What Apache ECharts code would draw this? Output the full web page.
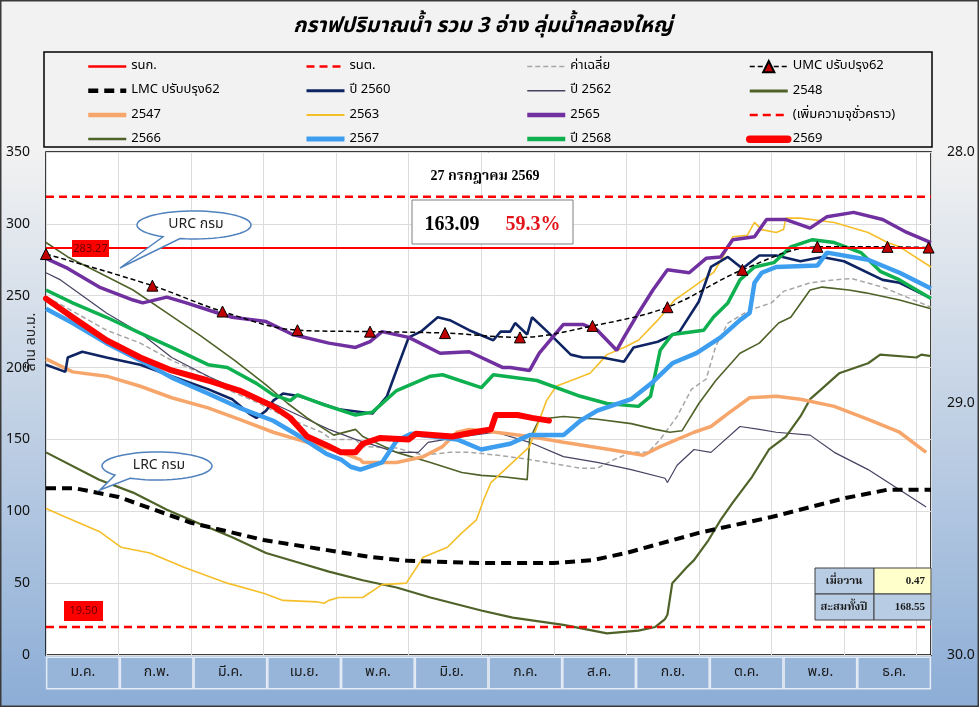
<!DOCTYPE html>
<html><head><meta charset="utf-8">
<script src="https://cdn.jsdelivr.net/npm/echarts@6/dist/echarts.min.js"></script>
<style>html,body{margin:0;padding:0;background:#f2f2f2}#c{width:979px;height:707px}</style>
</head><body><div id="c"></div>
<script>
// ---- categories / ticks ----
const months = ['ม.ค.','ก.พ.','มี.ค.','เม.ย.','พ.ค.','มิ.ย.','ก.ค.','ส.ค.','ก.ย.','ต.ค.','พ.ย.','ธ.ค.'];
const leftTicks = {min:0, max:350, step:50};
const rightTicks = {min:28, max:30, step:1};
// ---- constant levels ----
const rnkLevel = 283.27;
const rntLevel = 19.50;
const tempCapLevel = 318.8;
const todayVolume = 163.09;
const todayPercent = '59.3%';
const todayLabel = '27 กรกฎาคม 2569';
const yesterdayRain = '0.47';
const yearRain = '168.55';
// ---- series values: [day of year, million m3] ----
const umcData = [[0,279],[44,257],[73,239],[104,226],[134,225],[165,224],[196,221],[226,229],[257,242],[288,268],[319,284],[348,284],[365,283.5]];
const lmcData = [[0,116],[12,116],[30,110],[60,92],[90,80],[120,72],[135,68],[150,65.5],[180,64],[210,64],[226,66],[240,71],[255,78],[270,85],[300,96],[330,109],[348,115],[366,115]];
const avgData = [[0,249],[6,244],[25,226],[39,217],[52,205],[67,194],[73,186],[87,176],[101,164],[114,155],[118,150],[128,150],[131,145],[145,144],[156,139],[167,141],[175,141],[187,139],[200,136],[207,134],[221,130],[228,130],[235,136],[242,141],[249,141],[254,150],[261,166],[267,185],[273,192],[277,215],[282,231],[291,240],[300,245],[305,253],[316,259],[326,261],[333,262],[346,256],[356,249],[366,242]];
const y2560 = [[0,202],[8,197],[9,207],[15,211],[25,207],[39,202],[52,194],[67,185],[77,178],[84,168],[87,165],[91,170],[94,177],[98,182],[105,180],[121,171],[135,168],[141,180],[146,203],[150,221],[155,225],[162,235],[167,233],[175,226],[185,219],[188,225],[192,225],[194,231],[199,223],[201,235],[208,224],[217,209],[222,207],[230,207],[239,204],[243,214],[253,218],[262,225],[270,246],[275,270],[282,277],[288,269],[295,278],[302,278],[312,274],[321,277],[330,274],[346,261],[353,259],[365,249]];
const y2562 = [[0,266],[6,261],[25,238],[39,224],[52,207],[67,194],[80,184],[94,175],[108,164],[117,157],[128,150],[145,141],[154,141],[158,148],[172,152],[186,155],[200,148],[214,138],[228,134],[242,129],[256,123],[257,120],[261,132],[268,143],[275,141],[287,159],[295,157],[302,155],[316,153],[326,141],[340,129],[353,115],[364,103]];
const y2548 = [[0,141],[22,122],[36,113],[50,101],[64,91],[77,82],[91,71],[105,64],[117,58],[131,52],[145,47],[159,40],[180,31],[193,26],[214,21],[232,15],[245,17],[252,19.5],[256,25],[257,28],[259,50],[265,61],[268,66],[274,80],[279,94],[284,106],[292,124],[299,143],[306,152],[312,166],[316,178],[320,184],[328,196],[340,203],[345,209],[360,207],[362,209],[366,208]];
const y2547 = [[0,206],[11,197],[25,194],[39,187],[52,179],[67,172],[80,164],[94,155],[108,148],[122,141],[130,136],[131,134],[145,134],[156,138],[164,145],[170,155],[175,157],[186,155],[200,152],[214,148],[233,143],[247,139],[254,145],[268,155],[275,159],[282,168],[291,179],[302,180],[312,178],[326,173],[340,164],[353,155],[364,141]];
const y2563 = [[0,102],[8,96],[22,86],[31,75],[43,71],[57,61],[75,50],[90,43],[98,38],[112,37],[115,36],[117,38],[121,40],[131,40],[139,49],[149,50],[156,68],[166,75],[172,85],[178,94],[181,108],[184,120],[193,134],[200,145],[207,177],[211,187],[225,196],[232,209],[239,214],[245,219],[253,233],[260,247],[266,254],[276,266],[280,277],[284,291],[290,292],[293,301],[296,296],[302,294],[305,296],[306,304],[312,304],[326,301],[340,294],[348,287],[353,284],[366,270]];
const y2565 = [[0,276],[9,269],[22,256],[36,247],[40,245],[50,249],[58,245],[71,238],[77,235],[91,232],[102,223],[117,217],[128,214],[134,218],[139,225],[150,221],[163,210],[175,211],[189,200],[192,200],[200,198],[204,210],[214,230],[222,230],[228,226],[236,212],[239,221],[245,238],[251,254],[257,268],[266,266],[273,276],[279,277],[284,289],[293,291],[298,303],[306,303],[316,297],[323,305],[334,308],[346,303],[356,294],[366,287]];
const y2566 = [[0,287],[9,277],[22,266],[36,254],[50,238],[64,222],[78,205],[91,188],[100,175],[108,165],[119,153],[128,157],[131,152],[145,141],[159,134],[172,127],[180,125],[189,124],[199,122],[200,150],[204,164],[214,166],[228,164],[242,161],[252,157],[258,155],[263,156],[270,175],[277,191],[287,210],[295,217],[303,231],[308,235],[316,254],[321,256],[332,254],[339,252],[353,247],[366,241]];
const y2567 = [[0,241],[11,231],[25,217],[39,205],[52,193],[67,182],[80,172],[94,163],[105,152],[116,140],[122,136],[126,131],[130,129],[139,134],[145,149],[151,154],[160,152],[170,150],[180,143],[192,147],[200,153],[214,153],[221,163],[228,170],[242,178],[251,190],[259,203],[269,210],[279,221],[287,233],[291,238],[293,259],[296,266],[302,270],[319,271],[323,280],[340,275],[353,266],[366,255]];
const y2568 = [[0,254],[11,245],[25,235],[39,224],[52,214],[67,202],[75,200],[87,189],[94,181],[101,177],[104,181],[115,174],[117,173],[128,167],[135,169],[145,184],[159,194],[164,195],[180,186],[185,195],[203,191],[221,180],[232,175],[245,173],[250,180],[254,212],[258,221],[259,223],[272,226],[276,235],[282,245],[287,261],[293,270],[301,273],[308,284],[317,289],[326,287],[337,280],[345,267],[353,261],[366,248]];
const y2569 = [[0,248],[11,235],[25,219],[39,207],[52,198],[67,191],[80,184],[94,173],[101,165],[108,152],[116,146],[122,141],[128,141],[131,147],[138,151],[150,150],[153,154],[168,152],[177,155],[184,157],[186,167],[195,167],[201,165],[208,todayVolume]];

const THAI = "'Noto Sans Thai','Noto Sans','Tahoma',sans-serif";
const SERIF = "'Liberation Serif','Noto Serif Thai','Times New Roman',serif";
const G = {left:46, top:152, width:885, height:503};
const flat = v => [[0,v],[366,v]];

function ln(name, data, color, width, type, extra){
  return Object.assign({name, type:'line', data, symbol:'none', showSymbol:false,
    lineStyle:{color, width, type: type||'solid'}, itemStyle:{color},
    emphasis:{disabled:true}, animation:false, silent:true}, extra||{});
}

// speech-bubble outline (ellipse + tail) as polygon points
function bubble(cx, cy, rx, ry, a1, a2, tip){
  const pts = [];
  const start = a1 * Math.PI/180, end = (a2 - 360) * Math.PI/180;
  const n = 60;
  for (let i = 0; i <= n; i++){
    const t = start + (end - start) * i / n;
    pts.push([cx + rx*Math.cos(t), cy + ry*Math.sin(t)]);
  }
  pts.push(tip);
  return pts;
}

const series = [
  ln('ค่าเฉลี่ย', avgData, '#a6a6a6', 1.5, [5,3]),
  ln('ปี 2562', y2562, '#474262', 1.2),
  ln('2566', y2566, '#4f6228', 1.6),
  ln('2548', y2548, '#4f6228', 2.2),
  ln('2563', y2563, '#f5bf2a', 1.6),
  ln('2547', y2547, '#f7a66b', 3.5),
  ln('ปี 2560', y2560, '#0f2463', 2.6),
  ln('2565', y2565, '#7030a0', 3.5),
  ln('ปี 2568', y2568, '#0fb04f', 3.5),
  ln('2567', y2567, '#3d9ef0', 4.5),
  ln('LMC ปรับปรุง62', lmcData, '#000', 4, [10,6]),
  ln('UMC ปรับปรุง62', umcData, '#000', 1.5, [5,3], {symbol:'triangle', showSymbol:true, symbolSize:11, smooth:0.35,
      itemStyle:{color:'#c00000', borderColor:'#000', borderWidth:1}}),
  ln('รนก.', flat(rnkLevel), '#ff0000', 2),
  ln('รนต.', flat(rntLevel), '#ff0000', 2.5, [8,5]),
  ln('(เพิ่มความจุชั่วคราว)', flat(tempCapLevel), '#ff0000', 2.5, [8,5]),
  ln('2569', y2569, '#ff0000', 6, 'solid', {lineStyle:{color:'#ff0000', width:6, cap:'round', join:'round'}})
];

const legendCols = [
  ['รนก.','LMC ปรับปรุง62','2547','2566'],
  ['รนต.','ปี 2560','2563','2567'],
  ['ค่าเฉลี่ย','ปี 2562','2565','ปี 2568'],
  ['UMC ปรับปรุง62','2548','(เพิ่มความจุชั่วคราว)','2569']
];
const legendIconWidth = {'รนก.':2.5,'รนต.':2.5,'ค่าเฉลี่ย':1.5,'UMC ปรับปรุง62':1.5,'LMC ปรับปรุง62':4.5,'ปี 2560':3,'ปี 2562':1.5,'2548':3,
  '2547':4.5,'2563':2,'2565':4.5,'(เพิ่มความจุชั่วคราว)':2.5,'2566':2.5,'2567':5,'ปี 2568':4.5,'2569':7.5};
const legendLeft = [86,304,525,746];

const chart = echarts.init(document.getElementById('c'), null, {renderer:'canvas'});
chart.setOption({
  backgroundColor:'#f2f2f2',
  animation:false,
  textStyle:{fontFamily:THAI},
  grid:{left:G.left, top:G.top, width:G.width, height:G.height, show:true, borderColor:'#000', borderWidth:1.5, backgroundColor:'transparent', containLabel:false},
  legend: legendCols.map((d,i)=>({
    data:d.map(n=>({name:n, itemStyle:{opacity: n==='UMC ปรับปรุง62' ? 1 : 0}, lineStyle:{width:legendIconWidth[n]}})),
    orient:'vertical', left:legendLeft[i], top:60, itemWidth:38, itemHeight:14, itemGap:11.2, padding:0, selectedMode:false,
    textStyle:{fontSize:13, color:'#000', fontFamily:THAI}})),
  xAxis:[
    {type:'value', min:0, max:366, interval:30, position:'top', axisLabel:{show:false}, axisTick:{show:false}, axisLine:{show:false},
     splitLine:{show:true, lineStyle:{color:'#dcdcdc', width:1}}},
    {type:'category', data:months, position:'bottom', boundaryGap:true, axisLine:{show:false}, axisTick:{show:false}, splitLine:{show:false},
     axisLabel:{interval:0, margin:3, backgroundColor:'#97b4d9', borderColor:'#e4ebf5', borderWidth:1.5, width:71, height:30, lineHeight:30, padding:0, align:'center', fontSize:14, color:'#1a1a1a', fontFamily:THAI}}
  ],
  yAxis:[
    {type:'value', min:leftTicks.min, max:leftTicks.max, interval:leftTicks.step, position:'left', axisLine:{show:false}, axisTick:{show:false},
     axisLabel:{fontSize:14, color:'#111', margin:16, fontFamily:"'Noto Sans',sans-serif"}, splitLine:{show:true, lineStyle:{color:'#dcdcdc', width:1}}},
    {type:'value', min:rightTicks.min, max:rightTicks.max, interval:rightTicks.step, inverse:true, position:'right', axisLine:{show:false}, axisTick:{show:false},
     axisLabel:{fontSize:14, color:'#111', margin:16, formatter:v=>v.toFixed(1), fontFamily:"'Noto Sans',sans-serif"}, splitLine:{show:false}}
  ],
  series: series,
  graphic:{elements:[
    {type:'rect', z:-20, silent:true, shape:{x:0,y:150,width:979,height:557},
     style:{fill:{type:'linear',x:0,y:0,x2:0,y2:1,colorStops:[{offset:0,color:'#f2f2f2'},{offset:1,color:'#8cadd6'}]}}},
    {type:'rect', z:-10, silent:true, shape:{x:G.left,y:G.top,width:G.width,height:G.height}, style:{fill:'#ffffff'}},
    {type:'rect', z:50, silent:true, shape:{x:0.75,y:0.75,width:977.5,height:705.5}, style:{fill:'none', stroke:'#3a3a3a', lineWidth:1.5}},
    {type:'rect', z:50, silent:true, shape:{x:44,y:52,width:888,height:95}, style:{fill:'none', stroke:'#000', lineWidth:1.5}},
    {type:'text', z:50, silent:true, x:483, y:28, style:{text:'กราฟปริมาณน้ำ รวม 3 อ่าง ลุ่มน้ำคลองใหญ่', textAlign:'center', textVerticalAlign:'middle', fontSize:21, fontStyle:'italic', fontWeight:'bold', fontFamily:THAI, fill:'#000'}},
    {type:'text', z:50, silent:true, x:32, y:342, rotation:Math.PI/2, style:{text:'ล้าน ลบ.ม.', textAlign:'center', textVerticalAlign:'middle', fontSize:14, fontFamily:THAI, fill:'#222'}},
    {type:'text', z:60, silent:true, x:485, y:176, style:{text:todayLabel, textAlign:'center', textVerticalAlign:'middle', fontSize:14, fontWeight:'bold', fontFamily:SERIF, fill:'#000'}},
    {type:'rect', z:60, silent:true, shape:{x:412,y:200,width:161,height:44}, style:{fill:'#fff', stroke:'#7f7f7f', lineWidth:1}},
    {type:'text', z:61, silent:true, x:452, y:225, style:{text:todayVolume.toFixed(2), textAlign:'center', textVerticalAlign:'middle', fontSize:20, fontWeight:'bold', fontFamily:SERIF, fill:'#000'}},
    {type:'text', z:61, silent:true, x:533, y:225, style:{text:todayPercent, textAlign:'center', textVerticalAlign:'middle', fontSize:20, fontWeight:'bold', fontFamily:SERIF, fill:'#e3141b'}},
    {type:'rect', z:60, silent:true, shape:{x:72,y:240,width:37,height:17}, style:{fill:'#ff0000'}},
    {type:'text', z:61, silent:true, x:90.5, y:248.5, style:{text:rnkLevel.toFixed(2), textAlign:'center', textVerticalAlign:'middle', fontSize:11, fontFamily:"'Noto Sans',sans-serif", fill:'#6a0000'}},
    {type:'rect', z:60, silent:true, shape:{x:64,y:601,width:39,height:20}, style:{fill:'#ff0000'}},
    {type:'text', z:61, silent:true, x:83.5, y:611, style:{text:rntLevel.toFixed(2), textAlign:'center', textVerticalAlign:'middle', fontSize:11, fontFamily:"'Noto Sans',sans-serif", fill:'#6a0000'}},
    {type:'polygon', z:60, silent:true, shape:{points:bubble(194,225,57,14,104.2,122.9,[120,268])}, style:{fill:'#fff', stroke:'#4f81bd', lineWidth:1.5}},
    {type:'text', z:61, silent:true, x:196, y:225, style:{text:'URC กรม', textAlign:'center', textVerticalAlign:'middle', fontSize:14, fontFamily:THAI, fill:'#222'}},
    {type:'polygon', z:60, silent:true, shape:{points:bubble(157,466,55,14,119.4,139.8,[100,490])}, style:{fill:'#fff', stroke:'#4f81bd', lineWidth:1.5}},
    {type:'text', z:61, silent:true, x:159, y:466, style:{text:'LRC กรม', textAlign:'center', textVerticalAlign:'middle', fontSize:14, fontFamily:THAI, fill:'#222'}},
    {type:'rect', z:60, silent:true, shape:{x:815,y:568,width:59,height:26}, style:{fill:'#b8cce4', stroke:'#404040', lineWidth:1}},
    {type:'rect', z:60, silent:true, shape:{x:874,y:568,width:57,height:26}, style:{fill:'#ffffcc', stroke:'#404040', lineWidth:1}},
    {type:'rect', z:60, silent:true, shape:{x:815,y:594,width:59,height:26}, style:{fill:'#b8cce4', stroke:'#404040', lineWidth:1}},
    {type:'rect', z:60, silent:true, shape:{x:874,y:594,width:57,height:26}, style:{fill:'#b8cce4', stroke:'#404040', lineWidth:1}},
    {type:'text', z:61, silent:true, x:844, y:581, style:{text:'เมื่อวาน', textAlign:'center', textVerticalAlign:'middle', fontSize:11, fontWeight:'bold', fontFamily:SERIF, fill:'#1a1a1a'}},
    {type:'text', z:61, silent:true, x:925, y:581, style:{text:yesterdayRain, textAlign:'right', textVerticalAlign:'middle', fontSize:11, fontWeight:'bold', fontFamily:SERIF, fill:'#1a1a1a'}},
    {type:'text', z:61, silent:true, x:844, y:607, style:{text:'สะสมทั้งปี', textAlign:'center', textVerticalAlign:'middle', fontSize:11, fontWeight:'bold', fontFamily:SERIF, fill:'#1a1a1a'}},
    {type:'text', z:61, silent:true, x:925, y:607, style:{text:yearRain, textAlign:'right', textVerticalAlign:'middle', fontSize:11, fontWeight:'bold', fontFamily:SERIF, fill:'#1a1a1a'}}
  ]}
});
</script></body></html>
